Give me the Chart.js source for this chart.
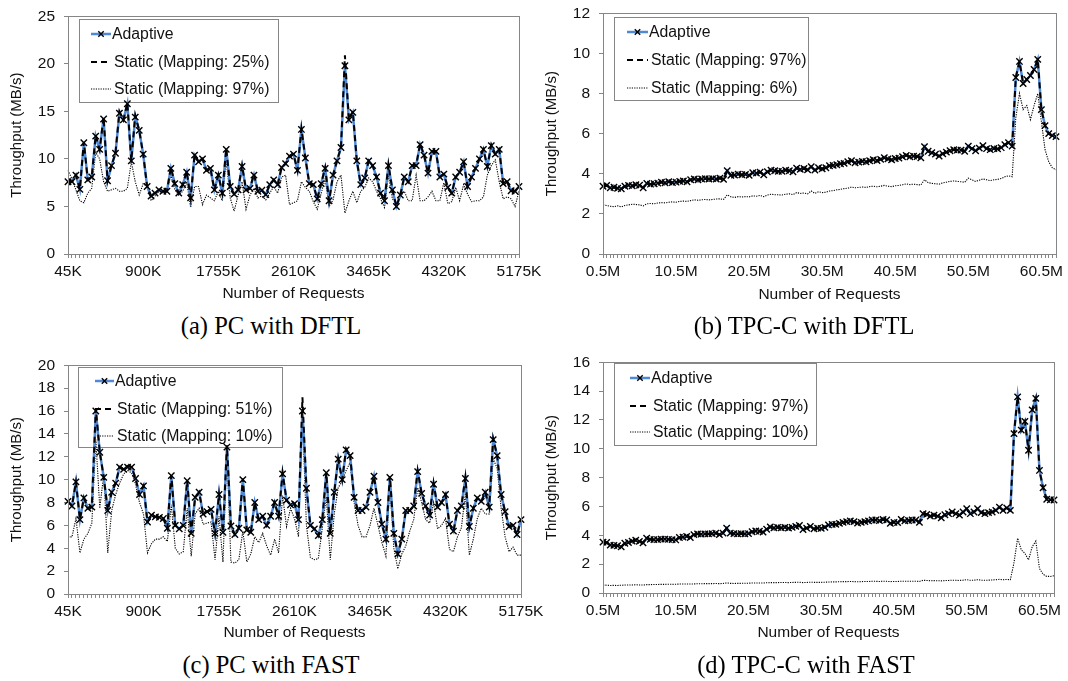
<!DOCTYPE html>
<html>
<head>
<meta charset="utf-8">
<title>Throughput vs Number of Requests</title>
<script src="https://cdn.jsdelivr.net/npm/chart.js@4.4.1/dist/chart.umd.min.js"></script>
<style>
  body { margin: 0; background: #fff; }
  #page { position: relative; width: 1068px; height: 681px; overflow: hidden; background: #fff; }
  canvas { position: absolute; }
  .caption {
    position: absolute; width: 300px; text-align: center; white-space: nowrap;
    font-family: 'Liberation Serif', 'Times New Roman', serif; font-size: 24.5px; line-height: 1; color: #000;
  }
</style>
</head>
<body>
<div id="page">
  <canvas id="chartA" width="547" height="309" style="left:0px;top:-2px"></canvas>
  <canvas id="chartB" width="549" height="313" style="left:535px;top:-5px"></canvas>
  <canvas id="chartC" width="549" height="299" style="left:0px;top:347px"></canvas>
  <canvas id="chartD" width="547" height="302" style="left:535px;top:344px"></canvas>
  <div class="caption" style="left:121px;top:314px">(a) PC with DFTL</div>
  <div class="caption" style="left:654px;top:314px">(b) TPC-C with DFTL</div>
  <div class="caption" style="left:121px;top:653px">(c) PC with FAST</div>
  <div class="caption" style="left:656px;top:653px">(d) TPC-C with FAST</div>
</div>
<script>
// categories: PC trace every 45K requests, TPC-C every 0.5M requests
const pcRequests = [];
for (let k = 45; k <= 5175; k += 45) pcRequests.push(k + 'K');
const tpccRequests = [];
for (let i = 1; i <= 125; i++) tpccRequests.push(i * 0.5 + 'M');

const pcTickLabels = ['45K', '900K', '1755K', '2610K', '3465K', '4320K', '5175K'];
const tpccTickLabels = ['0.5M', '10.5M', '20.5M', '30.5M', '40.5M', '50.5M', '60.5M'];

// (a) PC with DFTL
const pcDftlAdaptive = [
  7.6, 7.6, 8.3, 6.8, 11.7, 7.8, 8.1, 12.4, 11.0, 14.2,
  7.7, 9.3, 10.6, 14.8, 14.1, 15.8, 9.8, 14.4, 13.0, 10.5,
  7.1, 6.1, 6.4, 6.75, 6.6, 6.6, 9.0, 7.4, 6.4, 7.3,
  8.6, 5.9, 10.4, 9.7, 10.0, 8.8, 9.0, 6.75, 8.3, 6.4,
  11.0, 7.1, 6.3, 6.75, 9.2, 6.75, 6.9, 8.3, 6.6, 6.7,
  6.25, 7.3, 7.8, 7.3, 9.1, 9.5, 10.3, 10.5, 8.8, 13.1,
  10.1, 7.4, 7.3, 5.8, 7.4, 9.0, 5.6, 8.3, 9.8, 11.2,
  19.8, 14.1, 14.9, 9.8, 7.3, 8.0, 9.8, 9.3, 8.1, 6.4,
  5.6, 9.3, 6.75, 5.0, 6.2, 8.1, 7.6, 9.3, 9.3, 11.5,
  10.4, 8.5, 10.8, 10.8, 8.1, 8.4, 7.0, 6.4, 8.1, 8.6,
  9.7, 7.1, 8.1, 9.0, 10.0, 11.0, 9.2, 11.4, 10.5, 11.0,
  7.4, 7.6, 6.65, 6.6, 7.1
];
const pcDftlStatic25 = [
  7.6, 7.6, 8.3, 6.8, 11.8, 7.8, 8.1, 12.5, 11.0, 14.4,
  7.7, 9.3, 10.6, 15.0, 14.1, 15.9, 9.8, 14.6, 13.0, 10.5,
  7.1, 6.1, 6.4, 6.75, 6.6, 6.6, 9.1, 7.4, 6.4, 7.3,
  8.7, 5.9, 10.5, 9.7, 10.0, 8.8, 9.0, 6.75, 8.3, 6.4,
  11.1, 7.1, 6.3, 6.75, 9.3, 6.75, 6.9, 8.4, 6.6, 6.7,
  6.25, 7.3, 7.8, 7.3, 9.1, 9.5, 10.3, 10.5, 8.8, 13.2,
  10.1, 7.4, 7.3, 5.8, 7.4, 9.1, 5.6, 8.3, 9.8, 11.2,
  20.9, 14.1, 15.0, 9.8, 7.3, 8.0, 9.8, 9.3, 8.1, 6.4,
  5.6, 9.4, 6.75, 5.0, 6.2, 8.1, 7.6, 9.3, 9.3, 11.6,
  10.4, 8.5, 10.8, 10.8, 8.1, 8.4, 7.0, 6.4, 8.1, 8.6,
  9.7, 7.1, 8.1, 9.0, 10.0, 11.0, 9.2, 11.5, 10.5, 11.0,
  7.4, 7.6, 6.65, 6.6, 7.1
];
const pcDftlStatic97 = [
  8.8, 7.9, 6.75, 5.6, 5.4, 6.4, 6.9, 10.7, 10.0, 7.6,
  6.6, 6.75, 6.9, 6.6, 6.6, 6.9, 9.7, 7.6, 6.2, 7.4,
  7.1, 5.6, 6.1, 6.6, 6.4, 6.6, 8.3, 6.75, 6.2, 6.6,
  7.6, 4.9, 7.1, 7.1, 5.2, 6.2, 5.9, 5.6, 6.6, 5.6,
  9.8, 5.9, 4.5, 6.2, 7.6, 4.7, 6.2, 6.9, 5.9, 6.1,
  5.7, 6.4, 7.1, 6.4, 8.1, 8.3, 5.2, 5.4, 5.6, 7.6,
  7.0, 6.6, 5.5, 4.7, 6.4, 7.9, 5.0, 5.7, 7.6, 8.3,
  4.3, 5.6, 6.6, 5.4, 6.6, 7.0, 8.0, 7.6, 6.6, 5.8,
  4.9, 8.3, 5.8, 5.3, 6.0, 6.6, 5.6, 5.6, 8.3, 5.6,
  5.6, 6.0, 6.6, 5.6, 5.6, 7.5, 5.3, 5.5, 7.0, 5.6,
  7.3, 6.3, 5.5, 5.6, 5.6, 6.0, 8.3, 9.3, 9.9, 7.6,
  5.8, 6.0, 5.8, 5.0, 6.6
];

// (b) TPC-C with DFTL
const tpccDftlAdaptive = [
  3.38, 3.42, 3.30, 3.33, 3.28, 3.25, 3.38, 3.42, 3.40, 3.45,
  3.43, 3.30, 3.52, 3.48, 3.50, 3.53, 3.58, 3.55, 3.60, 3.56,
  3.58, 3.62, 3.64, 3.60, 3.70, 3.74, 3.70, 3.74, 3.76, 3.74,
  3.76, 3.74, 3.78, 3.72, 4.15, 3.92, 3.94, 3.98, 3.95, 3.97,
  3.92, 4.05, 4.03, 4.08, 3.95, 4.10, 4.18, 4.15, 4.12, 4.12,
  4.18, 4.15, 4.10, 4.28, 4.22, 4.26, 4.20, 4.35, 4.18, 4.30,
  4.25, 4.30, 4.40, 4.42, 4.45, 4.50, 4.52, 4.60, 4.65, 4.55,
  4.58, 4.62, 4.60, 4.65, 4.70, 4.66, 4.72, 4.80, 4.74, 4.70,
  4.76, 4.78, 4.85, 4.92, 4.85, 4.88, 4.86, 4.80, 5.35, 5.12,
  5.05, 4.98, 4.88, 5.00, 5.08, 5.15, 5.20, 5.18, 5.18, 5.12,
  5.38, 5.25, 5.15, 5.28, 5.40, 5.25, 5.20, 5.26, 5.24, 5.30,
  5.45, 5.55, 5.38, 8.8, 9.6, 8.5, 8.7, 8.9, 9.2, 9.7,
  7.2, 6.4, 6.0, 5.9, 5.85
];
// the dashed static line lies exactly on the adaptive one
const tpccDftlStatic97 = tpccDftlAdaptive;
const tpccDftlStatic6 = [
  2.45, 2.42, 2.38, 2.36, 2.40, 2.35, 2.42, 2.45, 2.48, 2.47,
  2.45, 2.40, 2.50, 2.52, 2.50, 2.54, 2.56, 2.55, 2.58, 2.60,
  2.58, 2.62, 2.64, 2.62, 2.66, 2.70, 2.68, 2.70, 2.72, 2.70,
  2.72, 2.74, 2.75, 2.72, 2.95, 2.85, 2.82, 2.86, 2.84, 2.86,
  2.85, 2.90, 2.88, 2.92, 2.86, 2.94, 2.98, 2.96, 2.95, 2.94,
  2.98, 3.00, 2.96, 3.06, 3.02, 3.04, 3.00, 3.14, 3.02, 3.10,
  3.06, 3.08, 3.14, 3.16, 3.20, 3.22, 3.26, 3.28, 3.34, 3.30,
  3.32, 3.34, 3.32, 3.36, 3.38, 3.35, 3.38, 3.42, 3.38, 3.36,
  3.40, 3.42, 3.45, 3.50, 3.46, 3.48, 3.46, 3.44, 3.70, 3.56,
  3.52, 3.50, 3.48, 3.55, 3.58, 3.62, 3.64, 3.62, 3.60, 3.58,
  3.78, 3.70, 3.62, 3.68, 3.74, 3.70, 3.66, 3.70, 3.72, 3.76,
  3.85, 3.90, 3.85, 6.8, 8.0, 7.2, 7.4, 6.7, 7.4, 8.0,
  6.6, 5.2, 4.6, 4.3, 4.2
];

// (c) PC with FAST
const pcFastAdaptive = [
  8.1, 7.7, 9.8, 6.5, 8.4, 7.5, 7.6, 16.0, 12.4, 10.2,
  7.3, 8.9, 9.7, 11.1, 10.9, 11.1, 11.1, 10.1, 8.7, 9.45,
  6.3, 6.9, 6.75, 6.7, 6.6, 5.75, 10.35, 6.0, 5.7, 6.0,
  9.9, 5.3, 8.45, 8.9, 7.0, 7.2, 7.4, 5.3, 8.7, 5.4,
  12.85, 5.95, 5.2, 5.75, 10.0, 5.6, 5.4, 8.0, 6.5, 6.8,
  6.0, 6.8, 8.0, 6.8, 10.5, 8.2, 7.8, 7.9, 6.5, 16.0,
  9.25, 6.0, 5.7, 5.1, 6.5, 10.6, 5.3, 8.9, 11.8, 10.0,
  12.6, 12.1, 8.45, 7.3, 7.3, 7.6, 8.9, 10.3, 8.0, 6.1,
  4.8, 10.2, 5.3, 3.5, 4.8, 7.3, 7.3, 7.7, 10.7, 8.8,
  7.7, 6.9, 9.6, 7.6, 8.0, 8.7, 6.1, 5.5, 7.3, 7.7,
  10.1, 5.9, 7.5, 8.4, 8.1, 8.9, 7.6, 13.5, 12.1, 8.7,
  7.2, 5.9, 6.0, 5.2, 6.5
];
const pcFastStatic51 = [
  8.1, 7.7, 9.8, 6.5, 8.4, 7.5, 7.6, 16.2, 12.4, 10.2,
  7.3, 8.9, 9.7, 11.1, 10.9, 11.2, 11.1, 10.1, 8.7, 9.45,
  6.3, 6.9, 6.75, 6.7, 6.6, 5.75, 10.4, 6.0, 5.7, 6.0,
  9.9, 5.3, 8.45, 8.9, 7.0, 7.2, 7.4, 5.3, 8.7, 5.4,
  13.0, 5.95, 5.2, 5.75, 10.1, 5.6, 5.4, 8.0, 6.5, 6.8,
  6.0, 6.8, 8.0, 6.8, 10.6, 8.2, 7.8, 7.9, 6.5, 17.2,
  9.25, 6.0, 5.7, 5.1, 6.5, 10.6, 5.3, 8.9, 11.8, 10.0,
  12.7, 12.1, 8.45, 7.3, 7.3, 7.6, 8.9, 10.3, 8.0, 6.1,
  4.8, 10.3, 5.3, 3.5, 4.8, 7.3, 7.3, 7.7, 10.8, 8.8,
  7.7, 6.9, 9.7, 7.6, 8.0, 8.7, 6.1, 5.5, 7.3, 7.7,
  10.2, 5.9, 7.5, 8.4, 8.1, 8.9, 7.6, 13.6, 12.1, 8.7,
  7.2, 5.9, 6.0, 5.2, 6.5
];
const pcFastStatic10 = [
  5.0, 5.0, 6.6, 3.6, 4.8, 5.3, 6.2, 13.5, 7.5, 10.5,
  3.6, 7.3, 8.7, 9.7, 10.5, 10.8, 10.6, 9.6, 8.0, 7.0,
  3.6, 4.4, 4.8, 4.8, 5.0, 4.6, 7.8, 4.0, 3.5, 3.7,
  7.5, 3.3, 7.0, 7.5, 6.1, 6.2, 6.3, 3.0, 6.8, 2.8,
  12.5, 2.8, 2.7, 3.0, 5.5, 2.8, 3.5, 5.0, 4.5, 5.3,
  4.2, 3.4, 4.8, 3.6, 8.6, 5.9, 7.5, 6.6, 5.0, 15.5,
  6.0, 3.2, 3.0, 3.1, 5.8, 8.5, 3.0, 7.0, 9.3, 9.9,
  10.8, 11.5, 8.0, 6.0, 5.0, 5.0, 6.0, 7.5, 6.0, 4.5,
  3.3, 9.5, 4.0, 2.2, 3.5, 4.2, 5.5, 6.5, 9.3, 8.0,
  6.5, 6.2, 8.0, 5.7, 6.0, 6.6, 3.9, 3.7, 5.0, 5.8,
  8.8, 3.4, 4.8, 6.6, 7.5, 7.0, 7.0, 11.8, 11.0, 7.5,
  5.0, 3.7, 4.1, 3.4, 3.4
];

// (d) TPC-C with FAST
const tpccFastAdaptive = [
  3.53, 3.50, 3.32, 3.30, 3.28, 3.20, 3.45, 3.50, 3.60, 3.66,
  3.58, 3.48, 3.80, 3.72, 3.70, 3.70, 3.74, 3.74, 3.72, 3.70,
  3.68, 3.85, 3.88, 3.93, 3.85, 4.05, 4.10, 4.08, 4.10, 4.10,
  4.12, 4.15, 4.05, 4.15, 4.50, 4.15, 4.12, 4.10, 4.12, 4.10,
  4.12, 4.25, 4.30, 4.28, 4.22, 4.42, 4.58, 4.52, 4.55, 4.52,
  4.55, 4.50, 4.55, 4.62, 4.68, 4.40, 4.50, 4.62, 4.45, 4.50,
  4.48, 4.55, 4.72, 4.76, 4.76, 4.83, 4.90, 4.95, 4.99, 4.95,
  4.85, 4.90, 4.95, 5.00, 5.06, 5.06, 5.02, 5.10, 5.06, 4.83,
  4.90, 4.88, 5.10, 5.00, 5.03, 5.06, 5.06, 4.90, 5.50, 5.45,
  5.33, 5.40, 5.33, 5.21, 5.43, 5.50, 5.62, 5.50, 5.40, 5.62,
  5.84, 5.50, 5.62, 5.84, 5.57, 5.50, 5.57, 5.62, 5.73, 5.96,
  5.73, 5.90, 5.73, 11.05, 13.6, 11.3, 11.9, 9.9, 12.7, 13.5,
  8.5, 7.3, 6.5, 6.47, 6.45
];
const tpccFastStatic97 = tpccFastAdaptive;
const tpccFastStatic10 = [
  0.55, 0.54, 0.52, 0.53, 0.52, 0.54, 0.55, 0.55, 0.56, 0.57,
  0.56, 0.55, 0.58, 0.58, 0.59, 0.59, 0.60, 0.60, 0.61, 0.60,
  0.61, 0.62, 0.62, 0.63, 0.62, 0.63, 0.64, 0.64, 0.65, 0.65,
  0.65, 0.66, 0.65, 0.66, 0.70, 0.67, 0.66, 0.67, 0.67, 0.68,
  0.68, 0.69, 0.70, 0.69, 0.69, 0.71, 0.72, 0.72, 0.72, 0.73,
  0.73, 0.72, 0.73, 0.74, 0.75, 0.72, 0.73, 0.75, 0.74, 0.74,
  0.74, 0.75, 0.76, 0.77, 0.77, 0.78, 0.79, 0.79, 0.80, 0.79,
  0.78, 0.79, 0.80, 0.80, 0.81, 0.81, 0.80, 0.82, 0.81, 0.79,
  0.80, 0.80, 0.82, 0.81, 0.82, 0.82, 0.82, 0.80, 0.88, 0.87,
  0.85, 0.86, 0.85, 0.84, 0.86, 0.87, 0.89, 0.88, 0.87, 0.89,
  0.92, 0.88, 0.89, 0.92, 0.89, 0.88, 0.89, 0.90, 0.92, 0.95,
  0.92, 0.94, 0.92, 2.1, 3.8, 3.0, 2.75, 2.3, 3.2, 3.6,
  1.7, 1.3, 1.15, 1.15, 1.2
];

const FONT = "'Liberation Sans', Arial, sans-serif";
const AXIS_GRAY = '#868686';
Chart.defaults.font.family = FONT;
Chart.defaults.font.size = 15.5;
Chart.defaults.color = '#111';
Chart.defaults.animation = false;

// grey box around the plot area, like the spreadsheet chart
const plotFrame = {
  id: 'plotFrame',
  afterDraw(chart) {
    const { ctx, chartArea: a } = chart;
    ctx.save();
    ctx.strokeStyle = AXIS_GRAY;
    ctx.lineWidth = 1;
    ctx.strokeRect(Math.round(a.left) + 0.5, Math.round(a.top) + 0.5,
                   Math.round(a.right - a.left), Math.round(a.bottom - a.top));
    ctx.restore();
  }
};

// boxed legend drawn inside the plot, under the data lines
const boxLegend = {
  id: 'boxLegend',
  beforeDatasetsDraw(chart, args, o) {
    const ctx = chart.ctx;
    ctx.save();
    ctx.fillStyle = '#fff';
    ctx.fillRect(o.x, o.y, o.w, o.h);
    ctx.strokeStyle = AXIS_GRAY;
    ctx.lineWidth = 1;
    ctx.strokeRect(o.x + 0.5, o.y + 0.5, o.w, o.h);
    chart.data.datasets.forEach((ds, i) => {
      const cy = o.y + o.rows[i];
      const x0 = o.x + o.sampleX, x1 = x0 + o.sampleW;
      ctx.strokeStyle = ds.borderColor;
      ctx.lineWidth = ds.borderWidth;
      ctx.setLineDash(ds.borderDash || []);
      ctx.beginPath();
      ctx.moveTo(x0, cy);
      ctx.lineTo(x1, cy);
      ctx.stroke();
      ctx.setLineDash([]);
      if (ds.pointRadius) {
        const mx = (x0 + x1) / 2, r = ds.pointRadius * 0.6;
        ctx.strokeStyle = ds.pointBorderColor;
        ctx.lineWidth = ds.pointBorderWidth;
        ctx.beginPath();
        ctx.moveTo(mx - r, cy - r); ctx.lineTo(mx + r, cy + r);
        ctx.moveTo(mx + r, cy - r); ctx.lineTo(mx - r, cy + r);
        ctx.stroke();
      }
      ctx.fillStyle = '#111';
      ctx.font = '15.8px ' + FONT;
      ctx.textBaseline = 'middle';
      ctx.fillText(ds.label, x1 + (i === 0 ? 1 : 3), cy + 1);
    });
    ctx.restore();
  }
};

function makeChart(id, cfg) {
  const datasets = [
    {
      label: 'Adaptive', data: cfg.adaptive, order: 1,
      borderColor: '#4f8ad8', borderWidth: 2.5,
      pointStyle: 'crossRot', pointRadius: 4.5, pointBorderColor: '#000', pointBorderWidth: 1.4
    },
    {
      label: cfg.dashedLabel, data: cfg.dashed, order: 0,
      borderColor: '#000', borderWidth: 2, borderDash: [6, 4], pointRadius: 0
    },
    {
      label: cfg.dottedLabel, data: cfg.dotted, order: 2,
      borderColor: '#000', borderWidth: 1.1, borderDash: [1.2, 1.2], pointRadius: 0
    }
  ];

  return new Chart(document.getElementById(id), {
    type: 'line',
    data: { labels: cfg.labels, datasets },
    plugins: [plotFrame, boxLegend],
    options: {
      responsive: false,
      devicePixelRatio: 1,
      events: [],
      layout: { padding: { top: 12, right: 28, left: 0, bottom: 0 } },
      elements: { line: { tension: 0 } },
      plugins: {
        legend: { display: false },
        tooltip: { enabled: false },
        boxLegend: cfg.legend
      },
      scales: {
        x: {
          offset: false,
          grid: { drawOnChartArea: false, tickLength: 4, color: AXIS_GRAY },
          border: { color: AXIS_GRAY },
          ticks: {
            autoSkip: false, maxRotation: 0, minRotation: 0, padding: 4,
            callback(value) {
              const lab = this.getLabelForValue(value);
              return cfg.tickLabels.includes(lab) ? lab : '';
            }
          },
          title: { display: true, text: 'Number of Requests', padding: { top: 0, bottom: 4 } },
          afterFit(scale) { scale.height = cfg.xHeight; }
        },
        y: {
          min: 0, max: cfg.yMax,
          grid: { drawOnChartArea: false, tickLength: 4, color: AXIS_GRAY },
          border: { color: AXIS_GRAY },
          ticks: { stepSize: cfg.yStep, padding: 9 },
          title: { display: true, text: 'Throughput (MB/s)', font: { size: 15 }, padding: { top: 8, bottom: 0 } },
          afterFit(scale) { scale.width = 68; }
        }
      }
    }
  });
}

makeChart('chartA', {
  labels: pcRequests, tickLabels: pcTickLabels,
  adaptive: pcDftlAdaptive, dashed: pcDftlStatic25, dotted: pcDftlStatic97,
  dashedLabel: 'Static (Mapping: 25%)', dottedLabel: 'Static (Mapping: 97%)',
  yMax: 25, yStep: 5, xHeight: 53,
  legend: { x: 79, y: 21, w: 199, h: 83, rows: [15, 43, 70], sampleX: 12, sampleW: 20 }
});

makeChart('chartB', {
  labels: tpccRequests, tickLabels: tpccTickLabels,
  adaptive: tpccDftlAdaptive, dashed: tpccDftlStatic97, dotted: tpccDftlStatic6,
  dashedLabel: 'Static (Mapping: 97%)', dottedLabel: 'Static (Mapping: 6%)',
  yMax: 12, yStep: 2, xHeight: 54,
  legend: { x: 79, y: 22, w: 194, h: 83, rows: [15, 43, 71], sampleX: 13, sampleW: 21 }
});

makeChart('chartC', {
  labels: pcRequests, tickLabels: pcTickLabels,
  adaptive: pcFastAdaptive, dashed: pcFastStatic51, dotted: pcFastStatic10,
  dashedLabel: 'Static (Mapping: 51%)', dottedLabel: 'Static (Mapping: 10%)',
  yMax: 20, yStep: 2, xHeight: 52,
  legend: { x: 78, y: 20, w: 204, h: 80, rows: [14, 42, 69], sampleX: 17, sampleW: 19 }
});

makeChart('chartD', {
  labels: tpccRequests, tickLabels: tpccTickLabels,
  adaptive: tpccFastAdaptive, dashed: tpccFastStatic97, dotted: tpccFastStatic10,
  dashedLabel: 'Static (Mapping: 97%)', dottedLabel: 'Static (Mapping: 10%)',
  yMax: 16, yStep: 2, xHeight: 53,
  legend: { x: 79, y: 19, w: 202, h: 82, rows: [15, 43, 69], sampleX: 16, sampleW: 20 }
});
</script>
</body>
</html>
